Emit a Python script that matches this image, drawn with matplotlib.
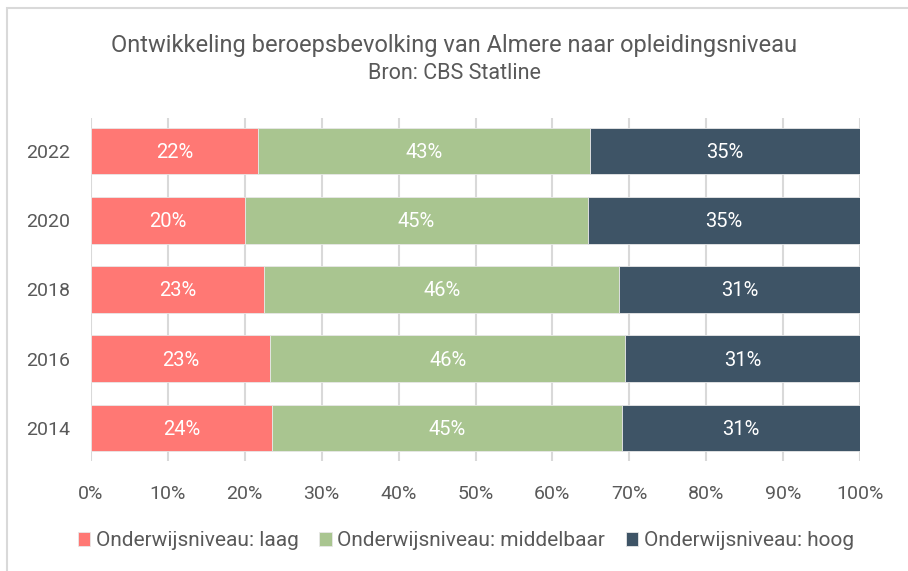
import numpy as np
import matplotlib
matplotlib.use("Agg")
import matplotlib.pyplot as plt
from matplotlib.patches import Rectangle

plt.rcParams['font.family'] = ['Roboto', 'DejaVu Sans']

years = ['2014', '2016', '2018', '2020', '2022']
laag = [23.5, 23.3, 22.5, 20.0, 21.7]
middelbaar = [45.5, 46.2, 46.2, 44.6, 43.2]
hoog = [31.0, 30.5, 31.3, 35.4, 35.1]
labels_laag = ['24%', '23%', '23%', '20%', '22%']
labels_mid = ['45%', '46%', '46%', '45%', '43%']
labels_hoog = ['31%', '31%', '31%', '35%', '35%']
series_names = ['Onderwijsniveau: laag', 'Onderwijsniveau: middelbaar', 'Onderwijsniveau: hoog']
colors = ['#FF7874', '#A9C590', '#3E5466']
text_col = '#595959'

fig = plt.figure(figsize=(9.08, 5.71), dpi=100)
fig.patches.append(Rectangle((7 / 908, -0.1), 1.2, (571 - 8) / 571 + 0.1, transform=fig.transFigure,
                             fill=False, edgecolor='#D9D9D9', linewidth=1.5))
ax = fig.add_axes([91 / 908, 110 / 571, (860 - 91) / 908, (453 - 110) / 571])

y = np.arange(len(years))
left = np.zeros(len(years))
for vals, labs, col, name in zip([laag, middelbaar, hoog], [labels_laag, labels_mid, labels_hoog],
                                 colors, series_names):
    bars = ax.barh(y, vals, left=left, height=0.67, color=col, edgecolor='#E8E8E8',
                   linewidth=0.6, label=name, zorder=3)
    for b, lab in zip(bars, labs):
        ax.text(b.get_x() + b.get_width() / 2, b.get_y() + b.get_height() / 2 - 0.02, lab,
                ha='center', va='center', color='white', fontsize=14.5, zorder=4)
    left = left + np.array(vals)

ax.set_xlim(0, 100)
ax.set_ylim(-0.48, 4.48)
ax.set_xticks(np.arange(0, 101, 10))
ax.set_xticklabels([f'{v}%' for v in range(0, 101, 10)])
ax.set_yticks(y)
ax.set_yticklabels(years)
ax.tick_params(axis='both', length=0, labelsize=14, colors=text_col)
ax.tick_params(axis='x', pad=17)
ax.tick_params(axis='y', pad=15)
ax.grid(axis='x', color='#D9D9D9', linewidth=1.5, zorder=0)
for s in ax.spines.values():
    s.set_visible(False)

fig.text(0.5, 0.921, 'Ontwikkeling beroepsbevolking van Almere naar opleidingsniveau',
         ha='center', va='center', fontsize=17, color=text_col)
fig.text(0.5, 0.872, 'Bron: CBS Statline', ha='center', va='center', fontsize=15.5, color=text_col)

fig.legend(loc='center', bbox_to_anchor=(0.513, 0.053), ncol=3, frameon=False, fontsize=15,
           handlelength=0.6, handleheight=0.6, handletextpad=0.25, columnspacing=1.0,
           labelcolor=text_col)

fig.savefig('out.png', dpi=100)
